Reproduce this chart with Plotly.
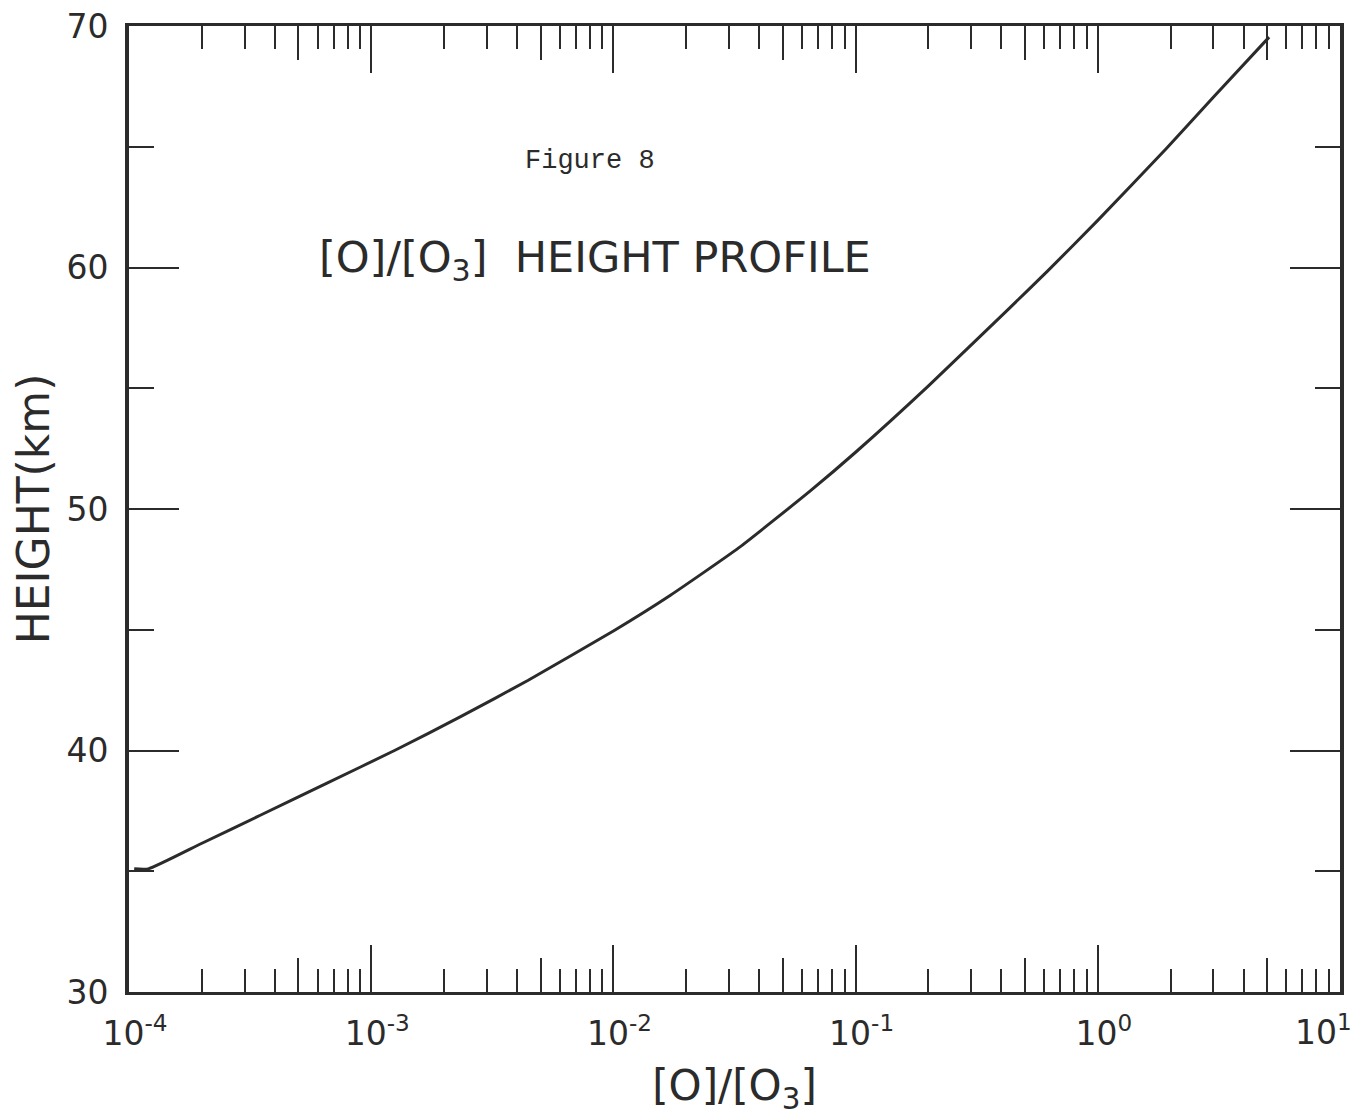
import plotly.graph_objects as go

# Data
ratio = [1.05e-4, 1.20e-4, 2.0e-4, 3.5e-4, 6.6e-4, 1.26e-3, 2.35e-3, 4.45e-3,
         1.0e-2, 1.72e-2, 3.3e-2, 6.5e-2, 0.1, 0.20, 0.43, 0.62, 1.0,
         1.92, 3.0, 5.1]
height_km = [35.1, 35.1, 36.16, 37.33, 38.66, 40.02, 41.41, 42.91,
             44.95, 46.43, 48.4, 50.75, 52.35, 55.1, 58.3, 59.85, 61.95,
             64.93, 67.05, 69.54]

x_major = [1e-4, 1e-3, 1e-2, 1e-1, 1e0, 1e1]
x_major_text = ["10<sup>-4</sup>", "10<sup>-3</sup>", "10<sup>-2</sup>",
                "10<sup>-1</sup>", "10<sup>0</sup>", ""]
x_last_label = "10<sup>1</sup>"
x_mid = [5e-4, 5e-3, 5e-2, 5e-1, 5e0]
x_minor = [d * m for d in [1e-4, 1e-3, 1e-2, 1e-1, 1e0] for m in [2, 3, 4, 6, 7, 8, 9]]
y_major = [30, 40, 50, 60, 70]
y_minor = [35, 45, 55, 65]

INK = "#2b2b2b"
FONT = "DejaVu Sans"
XRANGE = [-4.0002, 1.0002]

fig = go.Figure()
fig.add_trace(go.Scatter(x=ratio, y=height_km, mode="lines",
                         line=dict(color=INK, width=3, shape="spline", smoothing=0.5),
                         showlegend=False, hoverinfo="skip"))
# invisible copies so the overlay tick axes get drawn
for ax in ["x2", "x3"]:
    fig.add_trace(go.Scatter(x=ratio, y=height_km, mode="lines", xaxis=ax, yaxis="y",
                             line=dict(color="rgba(0,0,0,0)", width=0),
                             showlegend=False, hoverinfo="skip"))

fig.update_layout(
    width=1361, height=1120,
    margin=dict(l=121, r=29, t=18, b=136),
    paper_bgcolor="white", plot_bgcolor="white",
    font=dict(family=FONT, color=INK),
    xaxis=dict(
        type="log", range=XRANGE, domain=[0, 1], automargin=False,
        tickmode="array", tickvals=x_major, ticktext=x_major_text,
        ticks="inside", ticklen=47, tickwidth=2, tickcolor=INK,
        showline=True, linewidth=3, linecolor=INK, mirror="ticks",
        showgrid=False, zeroline=False,
        tickfont=dict(size=33, family=FONT, color=INK),
        ticklabelstandoff=10, ticklabeloverflow="allow", ticklabelshift=6,
        minor=dict(tickmode="array", tickvals=x_minor, ticks="inside",
                   ticklen=23, tickwidth=2, tickcolor=INK, showgrid=False),
        title=dict(text="[O]/[O<sub>3</sub>]", font=dict(size=42, family=FONT, color=INK),
                   standoff=20),
    ),
    xaxis2=dict(
        type="log", range=XRANGE, overlaying="x", anchor="y", side="bottom",
        automargin=False,
        tickmode="array", tickvals=x_mid, ticks="inside", ticklen=34, tickwidth=2,
        tickcolor=INK, showticklabels=False, showline=False, showgrid=False, zeroline=False,
    ),
    xaxis3=dict(
        type="log", range=XRANGE, overlaying="x", anchor="y", side="top",
        automargin=False,
        tickmode="array", tickvals=x_mid, ticks="inside", ticklen=34, tickwidth=2,
        tickcolor=INK, showticklabels=False, showline=False, showgrid=False, zeroline=False,
    ),
    yaxis=dict(
        range=[30, 70], automargin=False,
        tickmode="array", tickvals=y_major,
        ticks="inside", ticklen=50, tickwidth=2, tickcolor=INK,
        showline=True, linewidth=4, linecolor=INK, mirror="ticks",
        showgrid=False, zeroline=False,
        tickfont=dict(size=33, family=FONT, color=INK),
        ticklabelstandoff=10, ticklabeloverflow="allow",
        minor=dict(tickmode="array", tickvals=y_minor, ticks="inside",
                   ticklen=25, tickwidth=2, tickcolor=INK, showgrid=False),
        title=dict(text="HEIGHT(km)", font=dict(size=44, family=FONT, color=INK),
                   standoff=4),
    ),
)

# last decade label, kept inside the page like in the reference
fig.add_annotation(xref="x", yref="paper", x=1, y=0, xanchor="right", yanchor="top",
                   xshift=14, yshift=-15, text=x_last_label, showarrow=False,
                   font=dict(family=FONT, size=33, color=INK))
fig.add_annotation(xref="paper", yref="paper", x=0.381, y=0.878,
                   text="Figure 8", showarrow=False,
                   font=dict(family="Liberation Mono", size=27, color=INK))
fig.add_annotation(xref="paper", yref="paper", x=0.385, y=0.789,
                   text="[O]/[O<sub>3</sub>]  HEIGHT PROFILE", showarrow=False,
                   font=dict(family=FONT, size=43, color=INK))

fig.write_html("out.html")
